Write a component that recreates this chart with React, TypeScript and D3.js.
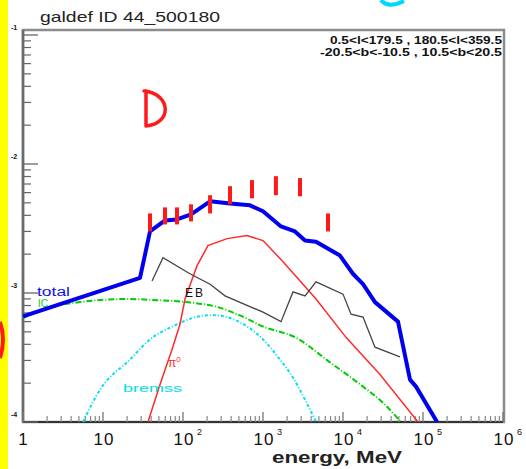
import React from "react";
import * as d3 from "d3";

// energies in MeV, intensities
const totalE = [1, 29, 38.7, 59.6, 84.1, 126, 218, 387, 688, 1000, 1680, 2510, 3350, 4600, 9170, 13300, 17800, 25100, 48700, 68800, 81800, 150000];
const totalF = [6.6e-4, 1.31e-3, 3.0e-3, 3.65e-3, 3.72e-3, 4.07e-3, 5.14e-3, 4.95e-3, 4.78e-3, 4.3e-3, 3.28e-3, 3.0e-3, 2.55e-3, 2.5e-3, 1.95e-3, 1.41e-3, 1.17e-3, 8.5e-4, 6.0e-4, 2.13e-4, 1.88e-4, 1.0e-4];

const ebE = [41, 56.2, 122, 218, 335, 1000, 1680, 2370, 3350, 4600, 10000, 12600, 17800, 25100, 51600];
const ebF = [1.24e-3, 1.88e-3, 1.41e-3, 1.17e-3, 9.5e-4, 7.1e-4, 6.0e-4, 1.02e-3, 9.5e-4, 1.22e-3, 9.8e-4, 6.85e-4, 6.5e-4, 3.8e-4, 3.2e-4];

const piE = [36.5, 51.6, 72.9, 91.7, 106, 150, 205, 355, 631, 1000, 1780, 4600, 10900, 29000, 86600];
const piF = [1e-4, 1.95e-4, 3.65e-4, 5.73e-4, 8.98e-4, 1.63e-3, 2.33e-3, 2.64e-3, 2.79e-3, 2.55e-3, 1.75e-3, 8.98e-4, 4.53e-4, 2.33e-4, 1e-4];

const icE = [1, 2.18, 5.16, 20, 47.3, 112, 266, 516, 1000, 2590, 6880, 17800, 31600, 51600];
const icF = [6.4e-4, 7.8e-4, 8.5e-4, 8.98e-4, 8.8e-4, 8.5e-4, 7.8e-4, 6.7e-4, 5.5e-4, 4.5e-4, 2.9e-4, 1.88e-4, 1.41e-4, 1.02e-4];

const brE = [5.62, 9.17, 21.8, 38.7, 75, 163, 237, 516, 1000, 1630, 2370, 3350, 4600];
const brF = [1e-4, 1.78e-4, 3.05e-4, 4.37e-4, 5.52e-4, 6.61e-4, 6.73e-4, 5.93e-4, 4.37e-4, 3.05e-4, 2.21e-4, 1.49e-4, 1e-4];

// measured points (error bars)
const ptE = [38.7, 59.6, 84.1, 126, 218, 387, 729, 1450, 2900, 6490];
const ptLo = [3.0e-3, 3.4e-3, 3.4e-3, 3.59e-3, 4.14e-3, 4.87e-3, 5.42e-3, 5.73e-3, 5.62e-3, 3.0e-3];
const ptHi = [4.14e-3, 4.61e-3, 4.61e-3, 4.87e-3, 5.73e-3, 6.73e-3, 7.5e-3, 8.05e-3, 7.78e-3, 4.14e-3];

const xDecades = [0, 1, 2, 3, 4, 5, 6];
const yDecades = [-4, -3, -2, -1];

const App = () => {
  const left = 23, right = 503, top = 30, bottom = 422;
  const x = d3.scaleLog().domain([1, 1e6]).range([left, right]);
  const y = d3.scaleLog().domain([1e-4, Math.pow(10, -1 + 5 / 129)]).range([bottom, top]);

  const line = (es: number[], fs: number[], curve = d3.curveLinear) =>
    d3.line<number>().x((e) => x(e)).y((_, i) => y(fs[i])).curve(curve)(es) || "";

  const xMinor: number[] = [];
  xDecades.slice(0, -1).forEach((k) => d3.range(2, 10).forEach((m) => xMinor.push(m * Math.pow(10, k))));
  const yMinor: number[] = [];
  yDecades.slice(0, -1).forEach((k) => d3.range(2, 10).forEach((m) => yMinor.push(m * Math.pow(10, k))));

  const font = "'Liberation Sans', Arial, sans-serif";

  return (
    <svg width={526} height={469} style={{ position: "absolute", left: 0, top: 0, background: "#fff" }} fontFamily={font}>
      <defs>
        <clipPath id="plot">
          <rect x={left} y={top} width={right - left + 1} height={bottom - top} />
        </clipPath>
      </defs>

      {/* title */}
      <text x={40} y={22} fontSize={15} fill="#222" textLength={180} lengthAdjust="spacingAndGlyphs">
        galdef ID 44_500180
      </text>

      {/* frame */}
      <rect x={left} y={top} width={right - left + 1} height={bottom - top} fill="none" stroke="#8c8c8c" strokeWidth={2.5} />
      <line x1={left} x2={left} y1={top} y2={bottom} stroke="#6a6a6a" strokeWidth={2.5} />
      <line x1={left} x2={right} y1={bottom} y2={bottom} stroke="#333" strokeWidth={2} />

      {/* y ticks */}
      {yDecades.map((k) => (
        <g key={"yM" + k}>
          <line x1={left} x2={left + 15} y1={y(Math.pow(10, k))} y2={y(Math.pow(10, k))} stroke="#666" strokeWidth={1.3} />
          <text x={14} y={y(Math.pow(10, k)) - 5} fontSize={7} fontWeight="bold" textAnchor="middle" fill="#111">
            {String(k)}
          </text>
        </g>
      ))}
      {yMinor.map((v, i) => (
        <line key={"ym" + i} x1={left} x2={left + 8} y1={y(v)} y2={y(v)} stroke="#666" strokeWidth={1.2} />
      ))}

      {/* x ticks */}
      {xDecades.map((k) => (
        <g key={"xM" + k}>
          <line x1={x(Math.pow(10, k))} x2={x(Math.pow(10, k))} y1={bottom} y2={bottom - 10} stroke="#777" strokeWidth={1.3} />
          {k === 0 ? (
            <text x={x(1)} y={445} fontSize={17} textAnchor="middle" fill="#111">1</text>
          ) : k === 1 ? (
            <text x={x(10) + 1} y={445} fontSize={17} textAnchor="middle" fill="#111" letterSpacing={1}>10</text>
          ) : (
            <g>
              <text x={x(Math.pow(10, k)) + 1} y={445} fontSize={17} textAnchor="middle" fill="#111" letterSpacing={1}>10</text>
              <text x={x(Math.pow(10, k)) + 14} y={435} fontSize={9} fill="#111">{k}</text>
            </g>
          )}
        </g>
      ))}
      {xMinor.map((v, i) => (
        <line key={"xm" + i} x1={x(v)} x2={x(v)} y1={bottom} y2={bottom - 6} stroke="#888" strokeWidth={1.2} />
      ))}

      <text x={272} y={463} fontSize={16} fontWeight="bold" fill="#222" textLength={130} lengthAdjust="spacingAndGlyphs">
        energy, MeV
      </text>

      {/* corner text */}
      <text x={502} y={44} fontSize={10} fontWeight="bold" textAnchor="end" fill="#111" textLength={172} lengthAdjust="spacingAndGlyphs">
        0.5&lt;l&lt;179.5 , 180.5&lt;l&lt;359.5
      </text>
      <text x={502} y={56} fontSize={10} fontWeight="bold" textAnchor="end" fill="#111" textLength={182} lengthAdjust="spacingAndGlyphs">
        -20.5&lt;b&lt;-10.5 , 10.5&lt;b&lt;20.5
      </text>

      {/* curves */}
      <g clipPath="url(#plot)" fill="none">
        <path d={line(brE, brF, d3.curveMonotoneX)} stroke="#00e0ee" strokeWidth={2} strokeDasharray="3,2,1,2" />
        <path d={line(icE, icF, d3.curveMonotoneX)} stroke="#00cc00" strokeWidth={2} strokeDasharray="6,2,1,2" />
        <path d={line(piE, piF)} stroke="#ff2a2a" strokeWidth={1.5} />
        <path d={line(ebE, ebF)} stroke="#444" strokeWidth={1.3} />
        <path d={line(totalE, totalF)} stroke="#0000ee" strokeWidth={4} strokeLinejoin="round" />
      </g>

      {/* data points */}
      {ptE.map((e, i) => (
        <line key={"p" + i} x1={x(e)} x2={x(e)} y1={y(ptLo[i])} y2={y(ptHi[i])} stroke="#ff1a1a" strokeWidth={4} />
      ))}

      {/* curve labels */}
      <text x={37} y={296} fontSize={12} fill="#1010ee" textLength={33} lengthAdjust="spacingAndGlyphs">total</text>
      <text x={38} y={307} fontSize={10} fill="#00cc00">IC</text>
      <text x={185} y={297} fontSize={12} fill="#111" letterSpacing={2}>EB</text>
      <text x={168} y={367} fontSize={12} fill="#ff2a2a">π<tspan dy={-5} fontSize={8}>0</tspan></text>
      <text x={123} y={392} fontSize={11} fill="#00e0ee" textLength={59} lengthAdjust="spacingAndGlyphs">bremss</text>

      {/* annotations on the scanned page */}
      <rect x={0} y={0} width={8} height={469} fill="#ffff00" />
      <path d="M0 322 Q6 340 0 358" stroke="#ff1a1a" strokeWidth={4} fill="none" />
      <path d="M146 91 L146 126 M144 91 C172 94 172 124 146 126" stroke="#ff1a1a" strokeWidth={3.5} fill="none" strokeLinecap="round" />
      <path d="M381 0 Q388 9 404 1" stroke="#00d8ff" strokeWidth={4} fill="none" />
    </svg>
  );
};

export default App;
